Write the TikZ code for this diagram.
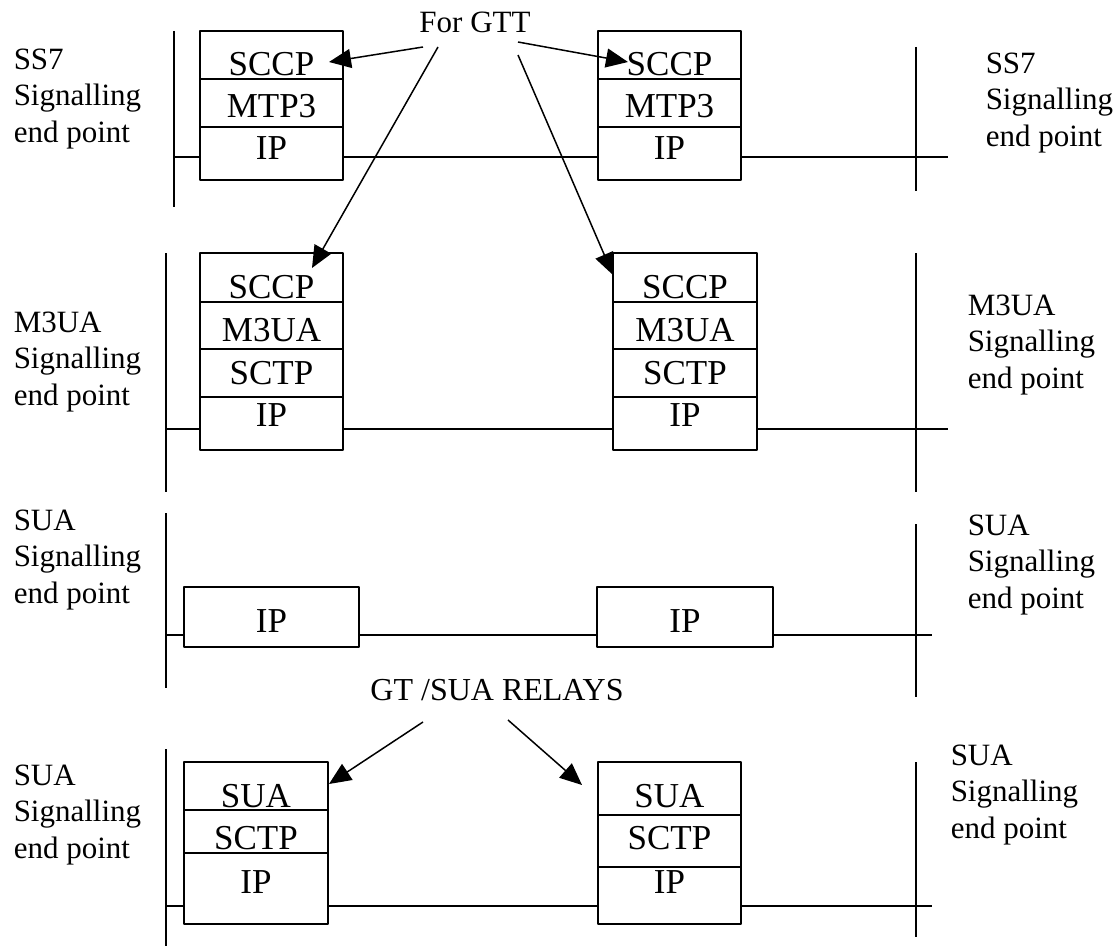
\documentclass[tikz,border=0pt]{standalone}
\usepackage{fontspec}
\setmainfont{Liberation Serif}
\usetikzlibrary{arrows.meta}
\tikzset{side/.style={align=left,anchor=north west,inner sep=0pt,font=\fontsize{31}{36.5}\selectfont}}

\begin{document}
\begin{tikzpicture}[x=1pt,y=-1pt,>={Triangle[length=22pt,width=19pt]},line width=1.5pt,line join=round,font=\fontsize{35}{40}\selectfont]
\tikzset{layer/.style={anchor=base,inner sep=0pt},cellbox/.style={draw,fill=white,line width=1.8pt}}
\useasboundingbox (0,0) rectangle (1119,952);

% --- SS7 signalling end points
\draw (174,31) -- (174,207); \draw (916,47) -- (916,191); \draw (174,157) -- (948,157);
\draw[cellbox] (200,31) rectangle (343,180); \draw[line width=1.8pt] (200,79) -- (343,79) (200,127) -- (343,127);
\draw[cellbox] (598,31) rectangle (741,180); \draw[line width=1.8pt] (598,79) -- (741,79) (598,127) -- (741,127);
\node[layer] (sccpA) at (271.5,76) {SCCP}; \node[layer] (mtpA) at (271.5,118) {MTP3}; \node[layer] (ipA) at (271.5,160) {IP};
\node[layer] (sccpB) at (669.5,76) {SCCP}; \node[layer] (mtpB) at (669.5,118) {MTP3}; \node[layer] (ipB) at (669.5,160) {IP};
\node[side] (ss7L) at (13,48) {SS7\\Signalling\\end point};
\node[side] (ss7R) at (985,52) {SS7\\Signalling\\end point};

% --- M3UA signalling end points
\draw (166,253) -- (166,492); \draw (916,253) -- (916,492); \draw (166,429) -- (948,429);
\draw[cellbox] (200,253) rectangle (343,450); \draw[line width=1.8pt] (200,302) -- (343,302) (200,349) -- (343,349) (200,397) -- (343,397);
\draw[cellbox] (613,253) rectangle (757,450); \draw[line width=1.8pt] (613,302) -- (757,302) (613,349) -- (757,349) (613,397) -- (757,397);
\node[layer] (sccpC) at (271.5,298) {SCCP}; \node[layer] (m3uaC) at (271.5,341) {M3UA}; \node[layer] (sctpC) at (271.5,384) {SCTP}; \node[layer] (ipC) at (271.5,426) {IP};
\node[layer] (sccpD) at (685,298) {SCCP}; \node[layer] (m3uaD) at (685,341) {M3UA}; \node[layer] (sctpD) at (685,384) {SCTP}; \node[layer] (ipD) at (685,426) {IP};
\node[side] (m3uaL) at (13,311) {M3UA\\Signalling\\end point};
\node[side] (m3uaR) at (967,294) {M3UA\\Signalling\\end point};

% --- SUA end points, IP only
\draw (166,513) -- (166,688); \draw (916,524) -- (916,697); \draw (166,635) -- (932,635);
\draw[cellbox] (184,587) rectangle (359,647); \draw[cellbox] (597,587) rectangle (773,647);
\node[layer] (ipE) at (271.5,632) {IP}; \node[layer] (ipF) at (685,632) {IP};
\node[side] (suaL) at (13,509) {SUA\\Signalling\\end point};
\node[side] (suaR) at (967,514) {SUA\\Signalling\\end point};

% --- SUA end points with relays
\draw (166,749) -- (166,946); \draw (916,762) -- (916,937); \draw (166,906) -- (932,906);
\draw[cellbox] (184,762) rectangle (328,924); \draw[line width=1.8pt] (184,810) -- (328,810) (184,853) -- (328,853);
\draw[cellbox] (598,762) rectangle (741,924); \draw[line width=1.8pt] (598,815) -- (741,815) (598,867) -- (741,867);
\node[layer] (suaG) at (256,807) {SUA}; \node[layer] (sctpG) at (256,849) {SCTP}; \node[layer] (ipG) at (256,893) {IP};
\node[layer] (suaH) at (669.5,807) {SUA}; \node[layer] (sctpH) at (669.5,849) {SCTP}; \node[layer] (ipH) at (669.5,893) {IP};
\node[side] (relL) at (13,764) {SUA\\Signalling\\end point};
\node[side] (relR) at (950,744) {SUA\\Signalling\\end point};

% --- callouts
\node[layer,font=\fontsize{31}{36}\selectfont] (gtt) at (475,33) {For GTT};
\node[layer,font=\fontsize{32}{36}\selectfont] (relays) at (497,700) {GT /SUA RELAYS};
\coordinate (gtt1) at (423,47); \coordinate (gtt2) at (438,47); \coordinate (gtt3) at (518,42); \coordinate (gtt4) at (518,55);
\coordinate (tip1) at (329,62); \coordinate (tip2) at (312,268); \coordinate (tip3) at (628,62); \coordinate (tip4) at (613,275);
\draw[->] (gtt1) -- (tip1); \draw[->] (gtt2) -- (tip2); \draw[->] (gtt3) -- (tip3); \draw[->] (gtt4) -- (tip4);
\coordinate (rel1) at (423,722); \coordinate (rel2) at (508,720);
\coordinate (tip5) at (329,784); \coordinate (tip6) at (582,785);
\draw[->] (rel1) -- (tip5); \draw[->] (rel2) -- (tip6);
\end{tikzpicture}
\end{document}
